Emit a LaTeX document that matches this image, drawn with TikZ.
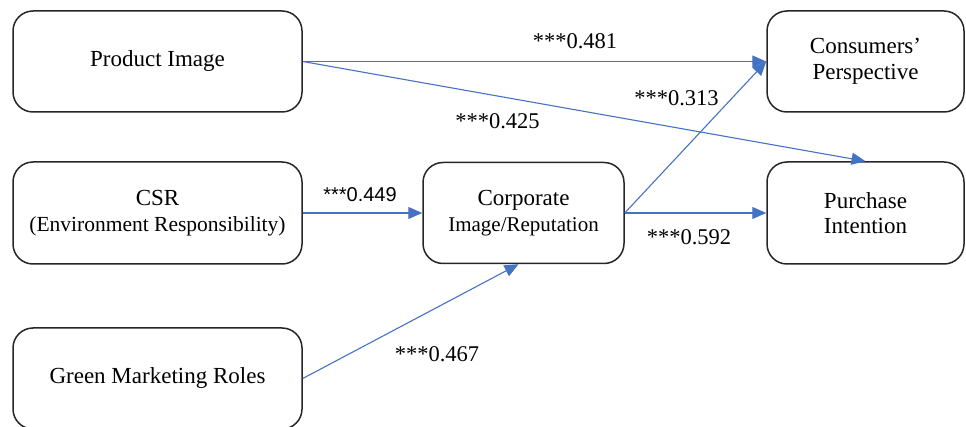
\documentclass[tikz,border=0pt]{standalone}
\usepackage{fontspec}
\setmainfont{Liberation Serif}
\newfontfamily\arialfont{Liberation Sans}
\usetikzlibrary{arrows.meta}
\definecolor{arrowblue}{HTML}{4472C4}
\begin{document}
\begin{tikzpicture}[x=1pt,y=-1pt,
  box/.style={draw=black!85, line width=1.5pt, rounded corners=20pt, align=center,
    font=\fontsize{23}{25.5}\selectfont, inner sep=0pt},
  conn/.style={draw=arrowblue, line width=1.1pt, -{Triangle[length=14pt,width=12pt]}},
  lab/.style={anchor=base, font=\fontsize{22.5}{25}\selectfont, inner sep=0pt},
  labsans/.style={anchor=base, font=\arialfont\fontsize{20}{24}\selectfont, inner sep=0pt}]
\useasboundingbox (0,0) rectangle (966,427);
\node[box, minimum width=289pt, minimum height=101pt] (pi) at (157.5,61.5) {Product Image};
\node[box, minimum width=289pt, minimum height=102pt] (csr) at (157.5,213) {CSR\\{\fontsize{21.5}{25}\selectfont (Environment Responsibility)}};
\node[box, minimum width=289pt, minimum height=101pt] (gm) at (157.5,378.5) {Green Marketing Roles};
\node[box, minimum width=201pt, minimum height=101pt] (corp) at (523.5,213) {Corporate\\{\fontsize{21}{25}\selectfont Image/Reputation}};
\node[box, minimum width=197pt, minimum height=101pt] (cons) at (865.5,61.5) {Consumers'\\Perspective};
\node[box, minimum width=197pt, minimum height=102pt] (pur) at (865.5,213) {Purchase\\Intention};

\draw[conn] (pi.east) -- (cons.west);
\draw[conn] (pi.east) -- (pur.north);
\draw[conn] (corp.east) -- (cons.west);
\draw[conn] (corp.east) -- (pur.west);
\draw[conn] (csr.east) -- (corp.west);
\draw[conn] (gm.east) -- ([xshift=-5pt]corp.south);

\node[lab] (l481) at (575,49) {***0.481};
\node[lab] (l313) at (676.5,106) {***0.313};
\node[lab] (l425) at (497.5,129) {***0.425};
\node[labsans] (l449) at (360,202) {***0.449};
\node[lab] (l592) at (689,245) {***0.592};
\node[lab] (l467) at (437,362) {***0.467};
\end{tikzpicture}
\end{document}
